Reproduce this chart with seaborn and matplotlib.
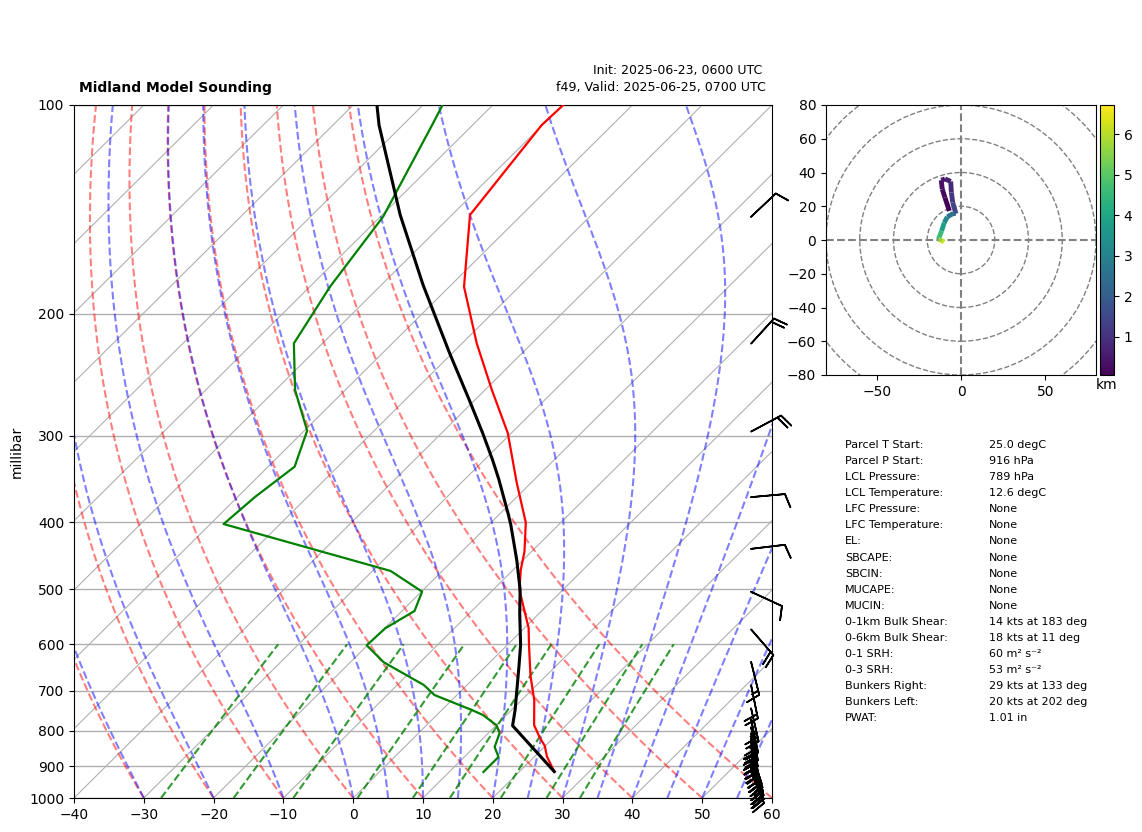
import numpy as np
import matplotlib
matplotlib.use("Agg")
import matplotlib.pyplot as plt
from matplotlib.collections import LineCollection
from matplotlib.cm import ScalarMappable
from matplotlib.colors import Normalize
import seaborn as sns

# sounding profiles
temp_p = [100, 106.9, 144.1, 182.9, 220.8, 257.8, 297.5, 349.9, 400.6, 441.2, 468.8,
          501, 568.4, 601.4, 666.8, 722.1, 784.9, 819.3, 840.6, 871.7, 916]
temp_c = [-69.9, -70.1, -67.4, -57.9, -47.9, -39.0, -30.5, -22.2, -15.0, -11.0, -8.9,
          -6.2, 0.6, 3.1, 7.8, 11.8, 15.4, 18.1, 19.9, 21.8, 25.0]

dewp_p = [100, 106.9, 144.9, 182.9, 220.8, 257.8, 295.1, 332.6, 367.6, 402.4, 470.3, 503.8,
          537.2, 569, 602.1, 637.1, 686.9, 710.3, 746.5, 758.9, 784.9, 805.7, 844, 872.6, 917]
dewp_c = [-87.2, -85.8, -79.6, -77.1, -74.1, -67.2, -59.6, -56.2, -57.5, -58.1, -27.4, -19.9,
          -18.2, -19.9, -20.1, -15.2, -6.2, -3.2, 4.3, 6.6, 10.0, 11.6, 12.9, 14.9, 14.9]

parcel_p = [100, 106.9, 144.1, 181.9, 228, 266.5, 297.5, 325.3, 347, 388.3, 403, 453.6, 501,
            541.3, 601.4, 646.5, 746.5, 786.4, 916]
parcel_c = [-96.6, -93.4, -77.4, -64.0, -50.4, -40.8, -34.1, -28.8, -25.1, -18.9, -16.9, -10.9, -6.1,
            -2.8, 1.9, 4.8, 10.5, 12.4, 25.0]

# wind barbs
barb_p = [916, 904, 892, 880, 868, 856, 844, 832, 820, 806, 790, 770, 742,
          687, 636, 571, 504, 437, 368, 296, 221, 145]
barb_u = [-7, -8.5, -10, -11, -11.5, -11.5, -10, -8, -7, -6.5, -6, -5.5, -5,
          -4, -3.6, -13, -9.1, -10, -10, -17.6, -13.5, -7.2]
barb_v = [17, 21, 25, 29, 32, 35, 36, 35.5, 34, 32, 29, 26, 22,
          19.6, 14.6, 15, 4.2, -1.2, -0.9, -9.4, -14.8, -6.8]

# hodograph
hodo_u = [-6.9, -9.5, -11.1, -11.7, -9.5, -6.1, -5.7, -4.9, -3, -4.5, -8.1, -9.9, -11.5, -13.4, -11.5, -10]
hodo_v = [17.2, 25.1, 30.1, 35.4, 36.2, 34.7, 28.1, 22.2, 15.6, 15.8, 13.7, 10.3, 5.3, 0.4, -0.2, -1.2]
hodo_h = [0.1, 0.2, 0.3, 0.45, 0.6, 0.8, 1.1, 1.4, 2.0, 2.6, 3.2, 3.8, 4.6, 5.6, 6.2, 6.7]

# parameter table
param_names = ["Parcel T Start:", "Parcel P Start:", "LCL Pressure:", "LCL Temperature:",
               "LFC Pressure:", "LFC Temperature:", "EL:", "SBCAPE:", "SBCIN:", "MUCAPE:",
               "MUCIN:", "0-1km Bulk Shear:", "0-6km Bulk Shear:", "0-1 SRH:", "0-3 SRH:",
               "Bunkers Right:", "Bunkers Left:", "PWAT:"]
param_vals = ["25.0 degC", "916 hPa", "789 hPa", "12.6 degC", "None", "None", "None", "None",
              "None", "None", "None", "14 kts at 183 deg", "18 kts at 11 deg",
              "60 m\u00b2 s\u207b\u00b2", "53 m\u00b2 s\u207b\u00b2", "29 kts at 133 deg",
              "20 kts at 202 deg", "1.01 in"]

pressure_ticks = [100, 200, 300, 400, 500, 600, 700, 800, 900, 1000]
temp_ticks = [-40, -30, -20, -10, 0, 10, 20, 30, 40, 50, 60]
dry_starts = np.arange(-40, 61, 10)
moist_starts = [-30, -20, -10, 0, 5, 10, 15, 20, 25, 30, 35, 40, 45, 50, 55]
mixing_ratios = [0.0004, 0.001, 0.002, 0.004, 0.007, 0.01, 0.016, 0.024, 0.032]

W, H = 1142, 832


def pixel_axes(fig, left, top, right, bottom):
    return fig.add_axes([left / W, 1 - bottom / H, (right - left) / W, (bottom - top) / H])


def skew(t, p):
    return np.asarray(t, dtype=float) + 100 * np.log10(1000 / np.asarray(p, dtype=float))


def sat_mix(t_k, p):
    es = 6.112 * np.exp(17.67 * (t_k - 273.15) / (t_k - 29.65))
    return 0.622 * es / (p - es)


def moist_line(t0, pres):
    # pseudoadiabat, stepped up from 1000 hPa
    Rd, Cp, Lv = 287.05, 1005.0, 2.501e6

    def slope(t_k, p):
        rs = sat_mix(t_k, p)
        return (Rd * t_k + Lv * rs) / (Cp + Lv ** 2 * rs * 0.622 / (Rd * t_k ** 2)) / p

    temps = [t0 + 273.15]
    for p1, p2 in zip(pres[:-1], pres[1:]):
        k1 = slope(temps[-1], p1)
        k2 = slope(temps[-1] + k1 * (p2 - p1), p2)
        temps.append(temps[-1] + 0.5 * (k1 + k2) * (p2 - p1))
    return np.array(temps) - 273.15


fig = plt.figure(figsize=(W / 100, H / 100), dpi=100)

# skew-T
ax = pixel_axes(fig, 74, 105, 772, 798)
ax.set_yscale("log")
ax.set_xlim(-40, 60)
ax.set_ylim(1000, 100)

pres = np.linspace(1000, 100, 181)
for t in np.arange(-140, 61, 10):
    ax.plot(skew(np.full(2, t), [1000, 100]), [1000, 100], color="#b0b0b0", lw=0.8, zorder=1)
for t in dry_starts:
    ax.plot(skew((t + 273.15) * (pres / 1000) ** 0.2857 - 273.15, pres), pres,
            color="r", ls="--", lw=1.5, alpha=0.5, zorder=2)
for t in moist_starts:
    ax.plot(skew(moist_line(t, pres), pres), pres, color="b", ls="--", lw=1.5, alpha=0.5, zorder=2)
mix_p = np.linspace(1000, 600, 30)
for w in mixing_ratios:
    e = w * mix_p / (0.622 + w)
    lg = np.log(e / 6.112)
    ax.plot(skew(243.5 * lg / (17.67 - lg), mix_p), mix_p, color="g", ls="--", lw=1.5, alpha=0.8, zorder=2)

sns.lineplot(x=skew(temp_c, temp_p), y=temp_p, sort=False, estimator=None, color="r", lw=1.6, ax=ax, zorder=4)
sns.lineplot(x=skew(dewp_c, dewp_p), y=dewp_p, sort=False, estimator=None, color="g", lw=1.6, ax=ax, zorder=4)
sns.lineplot(x=skew(parcel_c, parcel_p), y=parcel_p, sort=False, estimator=None, color="k", lw=2.2, ax=ax, zorder=5)

ax.barbs(np.full(len(barb_p), 57.0), barb_p, barb_u, barb_v, length=7, lw=1.2, color="k", clip_on=False, zorder=6)

ax.set_yticks(pressure_ticks)
ax.set_yticklabels([str(p) for p in pressure_ticks])
ax.yaxis.set_minor_locator(matplotlib.ticker.NullLocator())
ax.set_xticks(temp_ticks)
ax.grid(axis="y", color="#b0b0b0", lw=1)
ax.set_axisbelow(True)
ax.set_ylabel("millibar")

fig.text(79 / W, 1 - 88 / H, "Midland Model Sounding", fontsize=10, fontweight="bold", va="center")
fig.text(762 / W, 1 - 70.5 / H, "Init: 2025-06-23, 0600 UTC", fontsize=9, ha="right", va="center")
fig.text(766 / W, 1 - 88 / H, "f49, Valid: 2025-06-25, 0700 UTC", fontsize=9.1, ha="right", va="center")

# hodograph
hax = pixel_axes(fig, 826, 105, 1096, 375)
hax.set_xlim(-80, 80)
hax.set_ylim(-80, 80)
hax.set_xticks([-50, 0, 50])
hax.set_yticks([-80, -60, -40, -20, 0, 20, 40, 60, 80])
for r in [20, 40, 60, 80, 100]:
    hax.add_patch(plt.Circle((0, 0), r, fill=False, color="gray", ls="--", lw=1))
hax.axhline(0, color="gray", ls="--", lw=1.5)
hax.axvline(0, color="gray", ls="--", lw=1.5)

norm = Normalize(0.05, 6.72)
pts = np.column_stack([hodo_u, hodo_v])
segs = np.stack([pts[:-1], pts[1:]], axis=1)
lc = LineCollection(segs, cmap="viridis", norm=norm, lw=3.5)
lc.set_array(np.asarray(hodo_h[:-1]))
hax.add_collection(lc)

cax = pixel_axes(fig, 1100, 105, 1114, 375)
cbar = fig.colorbar(ScalarMappable(norm=norm, cmap="viridis"), cax=cax)
cbar.set_ticks([1, 2, 3, 4, 5, 6])
cax.set_xlabel("km", labelpad=2)

# parameter table
for i, (name, val) in enumerate(zip(param_names, param_vals)):
    y = 445 + 16.08 * i
    fig.text(845 / W, 1 - y / H, name, fontsize=8, va="center")
    fig.text(989 / W, 1 - y / H, val, fontsize=8, va="center")

fig.savefig("out.png", dpi=100)
